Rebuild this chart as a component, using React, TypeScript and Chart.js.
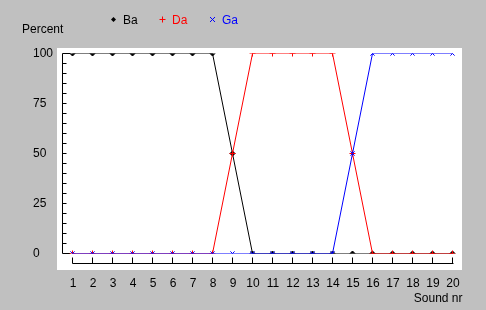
import React, { useEffect, useRef } from "react";
import { Chart, registerables } from "chart.js";

Chart.register(...registerables);

const categories = [1, 2, 3, 4, 5, 6, 7, 8, 9, 10, 11, 12, 13, 14, 15, 16, 17, 18, 19, 20];
const baValues = [100, 100, 100, 100, 100, 100, 100, 100, 50, 0, 0, 0, 0, 0, 0, 0, 0, 0, 0, 0];
const daValues = [0, 0, 0, 0, 0, 0, 0, 0, 50, 100, 100, 100, 100, 100, 50, 0, 0, 0, 0, 0];
const gaValues = [0, 0, 0, 0, 0, 0, 0, 0, 0, 0, 0, 0, 0, 0, 50, 100, 100, 100, 100, 100];
const yTickLabels = [0, 25, 50, 75, 100];
const seriesNames = ["Ba", "Da", "Ga"];
const seriesColors = ["#000000", "#ff0000", "#0000ff"];
const seriesStyles = ["rectRot", "cross", "crossRot"];
const yTitle = "Percent";
const xTitle = "Sound nr";

const FONT = "12px 'Liberation Sans', Arial, sans-serif";

function drawMarker(ctx: CanvasRenderingContext2D, style: string, x: number, y: number, color: string) {
  ctx.save();
  ctx.strokeStyle = color;
  ctx.fillStyle = color;
  ctx.lineWidth = 1;
  ctx.beginPath();
  if (style === "rectRot") {
    ctx.moveTo(x, y - 2.5);
    ctx.lineTo(x + 2.5, y);
    ctx.lineTo(x, y + 2.5);
    ctx.lineTo(x - 2.5, y);
    ctx.closePath();
    ctx.fill();
  } else if (style === "cross") {
    ctx.moveTo(x - 3, y);
    ctx.lineTo(x + 3, y);
    ctx.moveTo(x, y - 3);
    ctx.lineTo(x, y + 3);
    ctx.stroke();
  } else {
    ctx.moveTo(x - 2.5, y - 2.5);
    ctx.lineTo(x + 2.5, y + 2.5);
    ctx.moveTo(x + 2.5, y - 2.5);
    ctx.lineTo(x - 2.5, y + 2.5);
    ctx.stroke();
  }
  ctx.restore();
}

const framePlugin = {
  id: "frame",
  beforeDraw(chart: any) {
    const { ctx, chartArea, scales } = chart;
    const xs = scales.x;
    const ys = scales.y;
    ctx.save();
    ctx.fillStyle = "#c0c0c0";
    ctx.fillRect(0, 0, chart.width, chart.height);
    // white panel
    ctx.fillStyle = "#ffffff";
    const pl = Math.floor(chartArea.left) - 5;
    const pt = Math.floor(chartArea.top) - 5;
    const pr = Math.floor(chartArea.right);
    const pb = Math.floor(chartArea.bottom) + 17;
    ctx.fillRect(pl, pt, pr - pl, pb - pt);

    ctx.strokeStyle = "#000000";
    ctx.lineWidth = 1;
    // y axis
    const ax = Math.floor(chartArea.left) + 0.5;
    const yTop = Math.floor(ys.getPixelForValue(100)) + 0.5;
    const yBot = Math.floor(ys.getPixelForValue(0)) + 0.5;
    ctx.beginPath();
    ctx.moveTo(ax, yTop);
    ctx.lineTo(ax, yBot);
    for (let v = 0; v <= 100; v += 5) {
      const py = Math.floor(ys.getPixelForValue(v)) + 0.5;
      const len = v === 0 || v === 100 ? 8 : 4;
      ctx.moveTo(ax, py);
      ctx.lineTo(ax + len, py);
    }
    ctx.stroke();

    // x axis
    const axY = yBot + 10;
    const x0 = Math.floor(xs.getPixelForValue(categories[0])) + 0.5;
    const x1 = Math.floor(xs.getPixelForValue(categories[categories.length - 1])) + 0.5;
    ctx.beginPath();
    ctx.moveTo(x0, axY);
    ctx.lineTo(x1 + 1, axY);
    categories.forEach((c) => {
      const px = Math.floor(xs.getPixelForValue(c)) + 0.5;
      ctx.moveTo(px, axY);
      ctx.lineTo(px, axY - 6);
    });
    ctx.stroke();

    // labels
    ctx.font = FONT;
    ctx.fillStyle = "#000000";
    ctx.textBaseline = "middle";
    ctx.textAlign = "left";
    yTickLabels.forEach((v) => {
      ctx.fillText(String(v), 33, ys.getPixelForValue(v) + 0.5);
    });
    ctx.textAlign = "center";
    categories.forEach((c) => {
      ctx.fillText(String(c), xs.getPixelForValue(c) + 0.5, axY + 20);
    });
    ctx.textBaseline = "alphabetic";
    ctx.textAlign = "right";
    ctx.fillText(xTitle, chartArea.right, axY + 38);
    ctx.textAlign = "left";
    ctx.fillText(yTitle, 22, 33);

    // legend
    const legendX = [113, 162, 212];
    seriesNames.forEach((name, i) => {
      drawMarker(ctx, seriesStyles[i], legendX[i] + 0.5, 19.5, seriesColors[i]);
      ctx.fillStyle = seriesColors[i];
      ctx.fillText(name, legendX[i] + 10, 24);
    });
    ctx.restore();
  },
};

export default function App() {
  const ref = useRef<HTMLCanvasElement | null>(null);
  useEffect(() => {
    document.body.style.margin = "0";
    document.body.style.background = "#c0c0c0";
    const canvas = ref.current!;
    const mk = (vals: number[], i: number, order: number) => ({
      label: seriesNames[i],
      data: categories.map((c, k) => ({ x: c, y: vals[k] })),
      borderColor: seriesColors[i],
      backgroundColor: seriesColors[i],
      borderWidth: 1,
      pointStyle: seriesStyles[i] as any,
      pointRadius: i === 0 ? 2.5 : 3,
      pointBorderWidth: 1,
      pointBorderColor: seriesColors[i],
      pointBackgroundColor: seriesColors[i],
      tension: 0,
      order,
    });
    const chart = new Chart(canvas, {
      type: "line",
      data: {
        datasets: [mk(baValues, 0, 3), mk(daValues, 1, 2), mk(gaValues, 2, 1)],
      },
      options: {
        responsive: false,
        animation: false,
        layout: { padding: { left: 62.5, right: 23.5, top: 53.5, bottom: 56.5 } },
        plugins: { legend: { display: false }, tooltip: { enabled: false } },
        scales: {
          x: { type: "linear", min: 0.5, max: 20.5, display: false },
          y: { type: "linear", min: 0, max: 100, display: false },
        },
      },
      plugins: [framePlugin],
    });
    return () => chart.destroy();
  }, []);
  return <canvas ref={ref} width={486} height={310} style={{ display: "block" }} />;
}
